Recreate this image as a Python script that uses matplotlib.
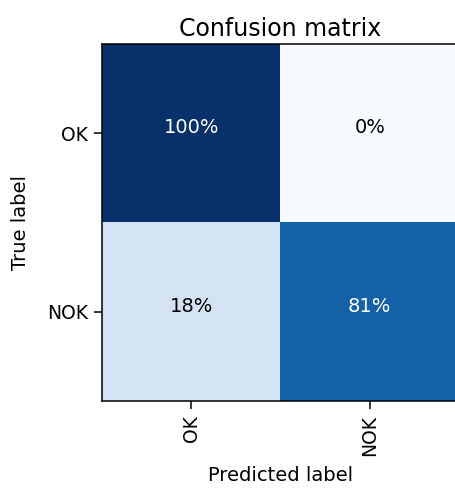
import numpy as np
import matplotlib
matplotlib.use("Agg")
import matplotlib.pyplot as plt

# dane macierzy pomyłek (znormalizowane wierszami)
classes = ["OK", "NOK"]
cm = np.array([[1.00, 0.00],
               [0.18, 0.81]])

fig = plt.figure(figsize=(4.56, 4.88), dpi=100)
ax = fig.add_axes([102 / 456, 87 / 488, 357 / 456, 357 / 488])

ax.imshow(cm, interpolation="nearest", cmap=plt.cm.Blues, vmin=0, vmax=1, aspect="auto")
ax.set_title("Confusion matrix", fontsize=17, pad=6)

ticks = np.arange(len(classes))
ax.set_xticks(ticks)
ax.set_xticklabels(classes, rotation=90, fontsize=13.5)
ax.set_yticks(ticks)
ax.set_yticklabels(classes, fontsize=13.5)
ax.tick_params(length=6, width=1.1, pad=4)
for s in ax.spines.values():
    s.set_linewidth(1.1)
ax.spines["right"].set_visible(False)  # obraz przycięty z prawej

thresh = cm.max() / 2.0
for i in range(cm.shape[0]):
    for j in range(cm.shape[1]):
        ax.text(j, i, "{:.0%}".format(cm[i, j]), ha="center", va="baseline", fontsize=14,
                color="white" if cm[i, j] > thresh else "black")

ax.set_ylabel("True label", fontsize=14, labelpad=12)
ax.set_xlabel("Predicted label", fontsize=14, labelpad=7)

fig.savefig("out.png", dpi=100)
